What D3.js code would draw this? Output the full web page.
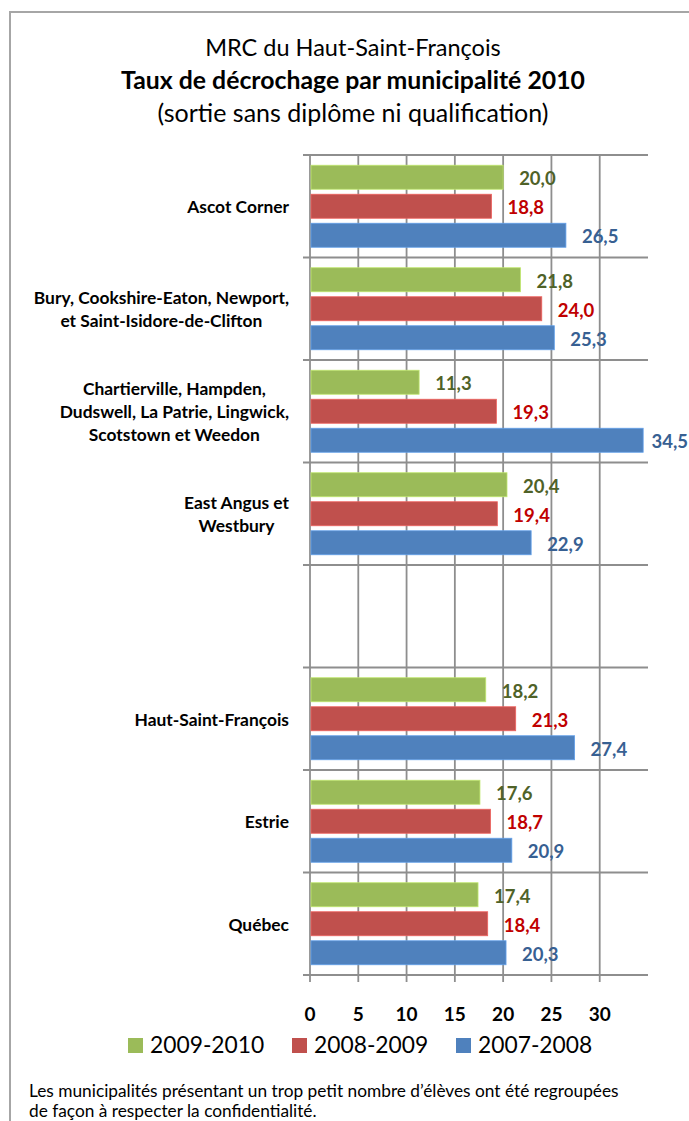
<!DOCTYPE html>
<html>
<head>
<meta charset="utf-8">
<script src="https://cdn.jsdelivr.net/npm/d3@7"></script>
<style>
  body { margin: 0; background: #fff; }
  svg { display: block; font-family: Lato, "Open Sans", sans-serif; }
</style>
</head>
<body>
<script>
// categories (line breaks marked with |), empty slot kept as ''
var categories = [
  'Ascot Corner',
  'Bury, Cookshire-Eaton, Newport,|et Saint-Isidore-de-Clifton',
  'Chartierville, Hampden,|Dudswell, La Patrie, Lingwick,|Scotstown et Weedon',
  'East Angus et|Westbury',
  '',
  'Haut-Saint-François',
  'Estrie',
  'Québec'
]
var series = ['2009-2010', '2008-2009', '2007-2008']
var v2009_2010 = [20.0, 21.8, 11.3, 20.4, null, 18.2, 17.6, 17.4]
var v2008_2009 = [18.8, 24.0, 19.3, 19.4, null, 21.3, 18.7, 18.4]
var v2007_2008 = [26.5, 25.3, 34.5, 22.9, null, 27.4, 20.9, 20.3]
var xTicks = [0, 5, 10, 15, 20, 25, 30]

var barColors = ['#9BBB59', '#C0504D', '#4F81BD']
var labelColors = ['#4F6228', '#C00000', '#376092']

var W = 689, H = 1121
var plot = { left: 310, right: 648, top: 155, bottom: 975 }

var svg = d3.select('body').append('svg')
  .attr('width', W)
  .attr('height', H)

// frame
svg.append('rect')
  .attr('x', 10).attr('y', 12)
  .attr('width', 800).attr('height', 1300)
  .attr('fill', 'none')
  .attr('stroke', '#a6a6a6')
  .attr('stroke-width', 2)

// titles
var titles = [
  { text: 'MRC du Haut-Saint-François', y: 56, weight: 'normal', size: 23.5 },
  { text: 'Taux de décrochage par municipalité 2010', y: 89, weight: 'bold', size: 24.8 },
  { text: '(sortie sans diplôme ni qualification)', y: 122, weight: 'normal', size: 25 }
]
svg.selectAll('text.title').data(titles).enter().append('text')
  .attr('class', 'title')
  .attr('x', 353)
  .attr('y', function(d) { return d.y })
  .attr('text-anchor', 'middle')
  .style('font-size', function(d) { return d.size + 'px' })
  .style('font-weight', function(d) { return d.weight })
  .style('fill', '#000')
  .text(function(d) { return d.text })

var x = d3.scaleLinear().domain([0, 35]).range([plot.left, plot.right])
var idx = d3.range(categories.length)
var y0 = d3.scaleBand().domain(idx).range([plot.top, plot.bottom])
var y1 = d3.scaleBand().domain(d3.range(series.length))
  .range([0, y0.bandwidth()])
  .paddingInner(0.172)
  .paddingOuter(0.353)

var gridColor = '#8e8e8e'

// vertical gridlines (also tick marks below the axis)
svg.selectAll('line.vgrid').data(xTicks).enter().append('line')
  .attr('class', 'vgrid')
  .attr('x1', function(d) { return x(d) })
  .attr('x2', function(d) { return x(d) })
  .attr('y1', plot.top)
  .attr('y2', plot.bottom + 7)
  .attr('stroke', gridColor)
  .attr('stroke-width', 1.8)

// horizontal category separators
var seps = idx.map(function(i) { return y0(i) }).concat([plot.bottom])
svg.selectAll('line.hsep').data(seps).enter().append('line')
  .attr('class', 'hsep')
  .attr('x1', plot.left - 7)
  .attr('x2', plot.right)
  .attr('y1', function(d) { return d })
  .attr('y2', function(d) { return d })
  .attr('stroke', gridColor)
  .attr('stroke-width', 1.8)

// bars
var values = [v2009_2010, v2008_2009, v2007_2008]
var rows = []
values.forEach(function(vals, s) {
  vals.forEach(function(v, i) {
    if (v != null) rows.push({ s: s, i: i, v: v })
  })
})

var fmt = function(v) { return d3.format('.1f')(v).replace('.', ',') }

svg.selectAll('rect.bar').data(rows).enter().append('rect')
  .attr('class', 'bar')
  .attr('x', x(0) + 1)
  .attr('y', function(d) { return y0(d.i) + y1(d.s) })
  .attr('width', function(d) { return x(d.v) - x(0) - 1 })
  .attr('height', y1.bandwidth())
  .attr('fill', function(d) { return barColors[d.s] })
  .attr('stroke', function(d) { return d3.color(barColors[d.s]).brighter(0.6) })
  .attr('stroke-width', 0.8)

svg.selectAll('text.val').data(rows).enter().append('text')
  .attr('class', 'val')
  .attr('y', function(d) { return y0(d.i) + y1(d.s) + y1.bandwidth() / 2 + 8 })
  .style('font-size', '18.5px')
  .style('font-weight', 'bold')
  .style('fill', function(d) { return labelColors[d.s] })
  .text(function(d) { return fmt(d.v) })
  .attr('x', function(d) {
    var w = this.getComputedTextLength()
    return Math.min(x(d.v) + 16, W - w - 1)
  })

// category labels: lines centred in a block that is right-aligned
var lineH = 22.8
var labelRight = 289
idx.forEach(function(i) {
  if (!categories[i]) return
  var lines = categories[i].split('|')
  var g = svg.append('g')
  var texts = lines.map(function(l) {
    return g.append('text')
      .style('font-size', '17.4px')
      .style('font-weight', 'bold')
      .style('fill', '#000')
      .attr('text-anchor', 'middle')
      .text(l)
  })
  var maxW = d3.max(texts, function(t) { return t.node().getComputedTextLength() })
  var cx = labelRight - maxW / 2
  var cy = y0(i) + y0.bandwidth() / 2 + 1
  texts.forEach(function(t, k) {
    t.attr('x', cx)
      .attr('y', cy + (k - (lines.length - 1) / 2) * lineH + 6)
  })
})

// x axis tick labels
svg.selectAll('text.tick').data(xTicks).enter().append('text')
  .attr('class', 'tick')
  .attr('x', function(d) { return x(d) })
  .attr('y', 1021)
  .attr('text-anchor', 'middle')
  .style('font-size', '19px')
  .style('font-weight', 'bold')
  .style('fill', '#000')
  .text(function(d) { return d })

// legend
var legendX = [128, 292, 456]
var leg = svg.selectAll('g.leg').data(series).enter().append('g')
  .attr('class', 'leg')
  .attr('transform', function(d, i) { return 'translate(' + legendX[i] + ',1038)' })
leg.append('rect')
  .attr('width', 15).attr('height', 15)
  .attr('fill', function(d, i) { return barColors[i] })
leg.append('text')
  .attr('x', 22)
  .attr('y', 15)
  .style('font-size', '22.8px')
  .style('fill', '#000')
  .text(function(d) { return d })

// footnote
var notes = [
  'Les municipalités présentant un trop petit nombre d’élèves ont été regroupées',
  'de façon à respecter la confidentialité.'
]
svg.selectAll('text.note').data(notes).enter().append('text')
  .attr('class', 'note')
  .attr('x', 29)
  .attr('y', function(d, i) { return 1097 + i * 20 })
  .style('font-size', '17.3px')
  .style('fill', '#000')
  .text(function(d) { return d })
</script>
</body>
</html>
